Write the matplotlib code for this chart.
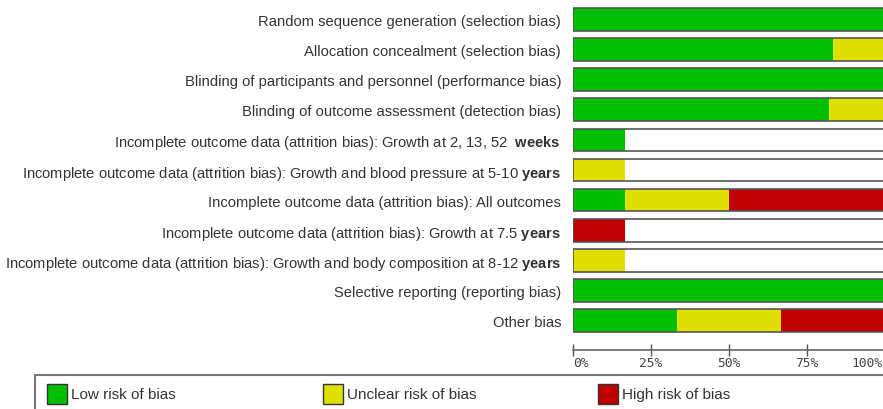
import matplotlib as mpl
mpl.use('Agg')
import matplotlib.pyplot as plt
from matplotlib.patches import Rectangle
import numpy as np

plt.rcParams['font.family'] = ['Liberation Sans', 'DejaVu Sans']
plt.rcParams['mathtext.fontset'] = 'custom'
plt.rcParams['mathtext.rm'] = 'Liberation Sans'
plt.rcParams['mathtext.bf'] = 'Liberation Sans:bold'

# risk of bias domains, top to bottom
domains = [
    "Random sequence generation (selection bias)",
    "Allocation concealment (selection bias)",
    "Blinding of participants and personnel (performance bias)",
    "Blinding of outcome assessment (detection bias)",
    "Incomplete outcome data (attrition bias): Growth at 2, 13, 52  $\\mathbf{weeks}$",
    "Incomplete outcome data (attrition bias): Growth and blood pressure at 5-10 $\\mathbf{years}$",
    "Incomplete outcome data (attrition bias): All outcomes",
    "Incomplete outcome data (attrition bias): Growth at 7.5 $\\mathbf{years}$",
    "Incomplete outcome data (attrition bias): Growth and body composition at 8-12 $\\mathbf{years}$",
    "Selective reporting (reporting bias)",
    "Other bias",
]
# percent of studies per judgement
low     = [100, 83.3, 100, 82.0, 16.7, 0,    16.7, 0,    0,    100, 33.3]
unclear = [0,   16.7, 0,   18.0, 0,    16.7, 33.3, 0,    16.7, 0,   33.4]
high    = [0,   0,    0,   0,    0,    0,    50.0, 16.7, 0,    0,   33.3]

levels = ["Low risk of bias", "Unclear risk of bias", "High risk of bias"]
colors = ['#00bf00', '#e0e000', '#c00000']
ticks = [0, 25, 50, 75, 100]
tick_labels = ['0%', '25%', '50%', '75%', '100%']

W, H = 883, 410
fig = plt.figure(figsize=(W/100, H/100), dpi=100)

def px(x0, y0, w, h):
    # pixel box (top-left origin) -> figure fraction
    return [x0/W, (H - y0 - h)/H, w/W, h/H]

axis_y = 350.7
ax = fig.add_axes(px(573, 0, 312, axis_y))

y = np.arange(len(domains))
bh = 0.75
ax.barh(y, 100, height=bh, color='white', edgecolor='none')
left = np.zeros(len(domains))
for vals, c in zip([low, unclear, high], colors):
    vals = np.array(vals)
    ax.barh(y, vals, left=left, height=bh, color=c, edgecolor='none')
    left += vals
ax.barh(y, 100, height=bh, facecolor='none', edgecolor='#555555', linewidth=1.2)

ax.set_xlim(0, 100)
ax.set_ylim(10.96, -0.674)
ax.set_yticks(y)
ax.set_yticklabels(domains, fontsize=10.6, color='#333333')
ax.tick_params(axis='y', length=0, pad=8.6)

# x ticks; labels placed by hand so the first/last stay inside the picture
ax.set_xticks(ticks)
ax.set_xticklabels([])
ax.tick_params(axis='x', direction='inout', length=8, width=1, color='#555555')
x_edge = (W - 573) / 312 * 100  # data x at the right edge of the picture
for t, lab in zip(ticks, tick_labels):
    ha = 'center'
    xt = t
    if t == ticks[0]:
        ha = 'left'
    elif t == ticks[-1]:
        ha = 'right'
        xt = min(t + 1.5, x_edge - 0.1)
    ax.text(xt, -0.018, lab, transform=ax.get_xaxis_transform(), ha=ha, va='top',
            family='DejaVu Sans Mono', fontsize=9.3, color='#444444', clip_on=False)

for s in ['left', 'top', 'right']:
    ax.spines[s].set_visible(False)
ax.spines['bottom'].set_color('#666666')
ax.spines['bottom'].set_linewidth(1.2)

# legend box
fig.patches.append(Rectangle((35/W, (H - 420)/H), 860/W, 44/H, transform=fig.transFigure,
                             facecolor='white', edgecolor='#777777', linewidth=1.5))
sq_x = [47, 323, 598]
txt_x = [71, 347, 622]
for lab, c, sx, tx in zip(levels, colors, sq_x, txt_x):
    fig.patches.append(Rectangle((sx/W, (H - 405)/H), 20/W, 20/H, transform=fig.transFigure,
                                 facecolor=c, edgecolor='#333333', linewidth=1))
    fig.text(tx/W, (H - 395)/H, lab, ha='left', va='center', fontsize=11,
             family=['Liberation Sans Narrow', 'Liberation Sans'], color='#333333')

fig.savefig('out.png', dpi=100)
